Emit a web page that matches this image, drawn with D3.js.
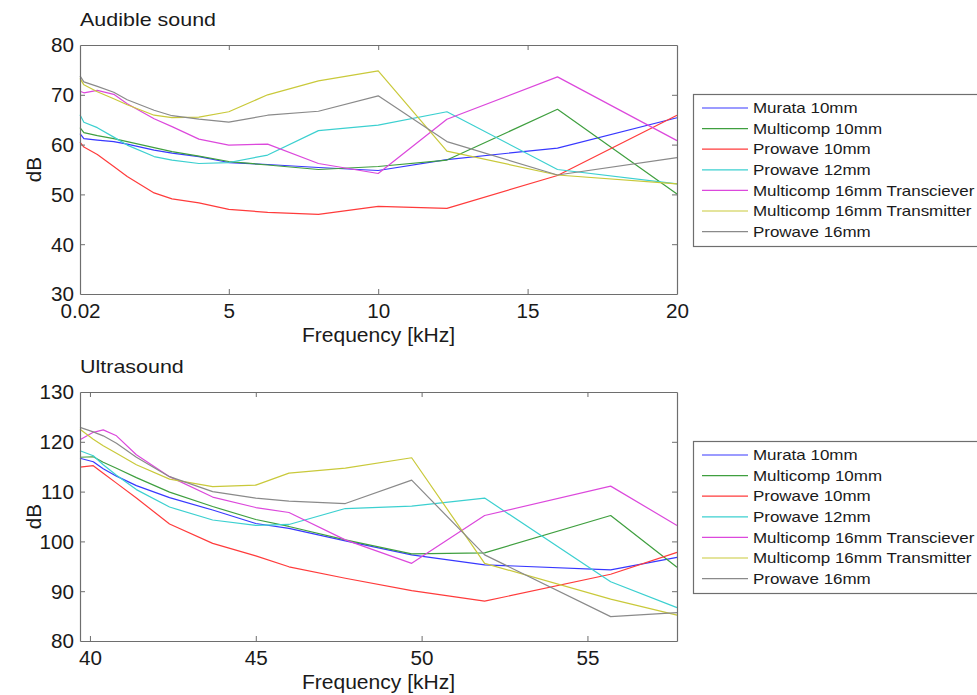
<!DOCTYPE html>
<html>
<head>
<meta charset="utf-8">
<script src="https://cdn.jsdelivr.net/npm/d3@7"></script>
<style>
  html, body { margin: 0; padding: 0; background: #fff; }
  svg { display: block; font-family: "Liberation Sans", Arial, sans-serif; }
</style>
</head>
<body>
<svg id="chart" width="977" height="695"></svg>
<script>
// Series names and colours (shared by both panels)
const seriesNames = [
  "Murata 10mm",
  "Multicomp 10mm",
  "Prowave 10mm",
  "Prowave 12mm",
  "Multicomp 16mm Transciever",
  "Multicomp 16mm Transmitter",
  "Prowave 16mm"
];
const seriesColors = ["#3838ff", "#3f9f3f", "#ff3b3b", "#3cd0d0", "#dc48dc", "#c9c93a", "#8a8a8a"];

// Audible band: frequencies in kHz and levels in dB
const audibleFreq = [0.02, 0.15, 0.6, 1.15, 1.6, 2.5, 3.1, 4, 5, 6.3, 8, 10, 12.3, 16, 20];
const audibleMurata10     = [62.2, 61.2, 60.9, 60.6, 60.1, 58.9, 58.3, 57.6, 56.4, 56.0, 55.4, 54.8, 57.0, 59.3, 65.4];
const audibleMulticomp10  = [63.4, 62.4, 61.8, 61.2, 60.6, 59.4, 58.6, 57.7, 56.6, 55.9, 55.0, 55.6, 56.9, 67.1, 50.1];
const audibleProwave10    = [60.5, 59.5, 58.0, 55.6, 53.6, 50.3, 49.1, 48.3, 47.0, 46.4, 46.0, 47.6, 47.2, 53.8, 65.9];
const audibleProwave12    = [66.0, 64.5, 63.4, 61.5, 59.9, 57.6, 56.9, 56.2, 56.4, 57.9, 62.8, 63.9, 66.6, 55.0, 52.1];
const audibleTransceiver  = [70.7, 70.4, 70.9, 70.1, 68.2, 65.2, 63.6, 61.1, 59.9, 60.1, 56.2, 54.2, 65.1, 73.6, 60.8];
const audibleTransmitter  = [73.3, 72.0, 70.6, 69.2, 68.0, 65.9, 65.4, 65.5, 66.6, 70.0, 72.8, 74.8, 58.7, 53.9, 52.1];
const audibleProwave16    = [73.8, 72.6, 71.7, 70.5, 69.0, 66.9, 65.8, 65.1, 64.5, 65.9, 66.7, 69.8, 60.6, 53.9, 57.4];

// Ultrasound band: frequencies in kHz and levels in dB
const ultraFreq = [39.7, 40.1, 40.4, 40.8, 41.4, 42.4, 43.7, 45.0, 46.0, 47.7, 49.7, 51.9, 55.7, 57.7];
const ultraMurata10    = [116.7, 116.0, 114.6, 113.1, 111.2, 108.8, 106.3, 103.6, 102.6, 100.1, 97.3, 95.3, 94.3, 96.8];
const ultraMulticomp10 = [116.9, 117.0, 115.9, 114.7, 112.8, 109.9, 107.0, 104.4, 103.0, 100.3, 97.5, 97.7, 105.2, 94.8];
const ultraProwave10   = [114.9, 115.2, 113.7, 111.7, 108.7, 103.5, 99.6, 97.1, 94.9, 92.6, 90.1, 88.0, 93.4, 97.8];
const ultraProwave12   = [118.2, 117.2, 115.4, 113.3, 110.4, 106.9, 104.3, 103.2, 103.4, 106.6, 107.1, 108.7, 91.9, 86.7];
const ultraTransceiver = [120.4, 121.9, 122.4, 121.2, 117.4, 113.0, 108.9, 106.8, 105.8, 100.3, 95.6, 105.2, 111.1, 103.2];
const ultraTransmitter = [122.5, 120.5, 119.2, 117.7, 115.4, 112.5, 111.0, 111.3, 113.7, 114.7, 116.8, 95.6, 88.4, 85.2];
const ultraProwave16   = [122.9, 122.0, 121.2, 119.7, 116.9, 113.0, 110.0, 108.7, 108.1, 107.6, 112.3, 97.3, 84.9, 85.7];

// Axis ticks
const audibleXTicks = [0.02, 5, 10, 15, 20];
const audibleYTicks = [30, 40, 50, 60, 70, 80];
const ultraXTicks = [40, 45, 50, 55];
const ultraYTicks = [80, 90, 100, 110, 120, 130];

const panels = [
  {
    title: "Audible sound",
    top: 45,
    xDomain: [0.02, 20], yDomain: [30, 80],
    xTicks: audibleXTicks, yTicks: audibleYTicks,
    xFormat: d => d === 0.02 ? "0.02" : String(d),
    freq: audibleFreq,
    series: [audibleMurata10, audibleMulticomp10, audibleProwave10, audibleProwave12,
             audibleTransceiver, audibleTransmitter, audibleProwave16]
  },
  {
    title: "Ultrasound",
    top: 392,
    xDomain: [39.7, 57.7], yDomain: [80, 130],
    xTicks: ultraXTicks, yTicks: ultraYTicks,
    xFormat: d => String(d),
    freq: ultraFreq,
    series: [ultraMurata10, ultraMulticomp10, ultraProwave10, ultraProwave12,
             ultraTransceiver, ultraTransmitter, ultraProwave16]
  }
];

const svg = d3.select("#chart");
const left = 80, right = 677, plotH = 249;
const axisColor = "#6e6e6e";
const textColor = "#1a1a1a";

// Text drawn slightly wide, as in the original figure's lettering
function wideText(parent, x, y, str, size, stretch, anchor) {
  return parent.append("text")
    .attr("transform", `translate(${x},${y}) scale(${stretch},1)`)
    .attr("text-anchor", anchor || "start")
    .attr("fill", textColor)
    .style("font-size", size + "px")
    .text(str);
}

panels.forEach(p => {
  const x = d3.scaleLinear().domain(p.xDomain).range([left, right]);
  const y = d3.scaleLinear().domain(p.yDomain).range([p.top + plotH, p.top]);
  const g = svg.append("g");

  // Data lines
  const line = d3.line().x(d => x(d[0])).y(d => y(d[1]));
  p.series.forEach((vals, i) => {
    g.append("path")
      .datum(p.freq.map((f, k) => [f, vals[k]]))
      .attr("fill", "none")
      .attr("stroke", seriesColors[i])
      .attr("stroke-width", 1.2)
      .attr("stroke-linejoin", "round")
      .attr("d", line);
  });

  // Axes with inward ticks on all four sides
  const tickLen = 5;
  const bottomAxis = d3.axisBottom(x).tickValues(p.xTicks).tickFormat(p.xFormat)
    .tickSizeInner(-tickLen).tickSizeOuter(0).tickPadding(10);
  const topAxis = d3.axisTop(x).tickValues(p.xTicks).tickFormat("")
    .tickSizeInner(-tickLen).tickSizeOuter(0);
  const leftAxis = d3.axisLeft(y).tickValues(p.yTicks)
    .tickSizeInner(-tickLen).tickSizeOuter(0).tickPadding(6);
  const rightAxis = d3.axisRight(y).tickValues(p.yTicks).tickFormat("")
    .tickSizeInner(-tickLen).tickSizeOuter(0);

  const gb = g.append("g").attr("transform", `translate(0,${p.top + plotH})`).call(bottomAxis);
  const gt = g.append("g").attr("transform", `translate(0,${p.top})`).call(topAxis);
  const gl = g.append("g").attr("transform", `translate(${left},0)`).call(leftAxis);
  const gr = g.append("g").attr("transform", `translate(${right},0)`).call(rightAxis);

  [gb, gt, gl, gr].forEach(a => {
    a.select(".domain").attr("stroke", axisColor).attr("stroke-width", 1.2);
    a.selectAll(".tick line").attr("stroke", axisColor);
    a.selectAll(".tick text")
      .attr("fill", textColor)
      .style("font-size", "19.5px")
      .style("font-family", "'Liberation Sans', Arial, sans-serif");
  });
  gb.selectAll(".tick text").attr("transform", "scale(1.06,1)");
  gl.selectAll(".tick text").attr("dy", "0.35em")
    .attr("transform", "translate(-6,0) scale(1.06,1) translate(6,0)");
  // Drop tick marks that sit on the frame corners
  [gb, gt].forEach(a => a.selectAll(".tick line").filter(d => x(d) <= left + 1 || x(d) >= right - 1).remove());
  [gl, gr].forEach(a => a.selectAll(".tick line").filter(d => y(d) <= p.top + 1 || y(d) >= p.top + plotH - 1).remove());

  // Titles and axis labels
  wideText(g, left, p.top - 19, p.title, 19, 1.13, "start");
  wideText(g, (left + right) / 2, p.top + plotH + 48, "Frequency [kHz]", 19.5, 1.08, "middle");
  g.append("text")
    .attr("transform", `translate(41,${p.top + plotH / 2}) rotate(-90) scale(1.06,1)`)
    .attr("text-anchor", "middle")
    .attr("fill", textColor).style("font-size", "19.5px")
    .text("dB");

  // Legend
  const lgTop = p.top + 49;
  const lg = g.append("g");
  lg.append("rect")
    .attr("x", 693.5).attr("y", lgTop + 0.5)
    .attr("width", 300).attr("height", 152)
    .attr("fill", "#fff").attr("stroke", axisColor).attr("stroke-width", 1.2);
  seriesNames.forEach((name, i) => {
    const yy = lgTop + 14 + i * 20.6;
    lg.append("line")
      .attr("x1", 702).attr("x2", 748).attr("y1", yy).attr("y2", yy)
      .attr("stroke", seriesColors[i]).attr("stroke-width", 1.2);
    wideText(lg, 753, yy + 5.2, name, 14.5, 1.17, "start");
  });
});
</script>
</body>
</html>
